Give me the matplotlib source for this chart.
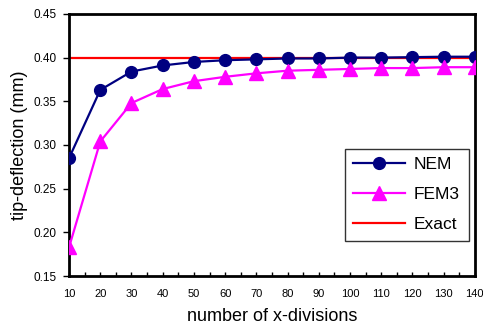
import matplotlib.pyplot as plt
from matplotlib.ticker import MultipleLocator

# dane
podzialy = [10, 20, 30, 40, 50, 60, 70, 80, 90, 100, 110, 120, 130, 140]
nem = [0.285, 0.363, 0.384, 0.391, 0.395, 0.397, 0.398, 0.399, 0.399, 0.400, 0.400, 0.4005, 0.401, 0.401]
fem3 = [0.183, 0.304, 0.348, 0.364, 0.373, 0.378, 0.382, 0.385, 0.386, 0.387, 0.388, 0.388, 0.389, 0.389]
exact = [0.40] * len(podzialy)

plt.rcParams['font.family'] = ['Liberation Sans', 'DejaVu Sans']

fig = plt.figure(figsize=(4.83, 3.31), dpi=100)
ax = fig.add_axes([0.143, 0.166, 0.840, 0.792])

ax.plot(podzialy, nem, color='#000080', lw=1.6, marker='o', ms=8.5, label='NEM', zorder=3)
ax.plot(podzialy, fem3, color='#FF00FF', lw=1.6, marker='^', ms=10, label='FEM3', zorder=3)
ax.plot(podzialy, exact, color='#FF0000', lw=1.6, label='Exact', zorder=2)

ax.set_xlim(10, 140)
ax.set_ylim(0.15, 0.45)
ax.set_xticks(podzialy)
ax.xaxis.set_minor_locator(MultipleLocator(5))
ax.set_yticks([0.15, 0.20, 0.25, 0.30, 0.35, 0.40, 0.45])
ax.set_yticklabels([f"{v:.2f}" for v in ax.get_yticks()])

ax.tick_params(axis='x', which='both', direction='in', length=3, width=1, labelsize=8, pad=9)
ax.tick_params(axis='y', direction='out', length=4, width=1, labelsize=8.5, pad=5)
for s in ax.spines.values():
    s.set_linewidth(2)

ax.set_xlabel("number of x-divisions", fontsize=13, labelpad=7)
ax.set_ylabel("tip-deflection (mm)", fontsize=13, labelpad=4)

leg = ax.legend(loc='lower right', bbox_to_anchor=(0.985, 0.134), borderaxespad=0,
                fontsize=12.5, frameon=True, fancybox=False, edgecolor='black',
                handlelength=3.0, borderpad=0.5, labelspacing=0.85, handletextpad=0.5)
leg.get_frame().set_linewidth(1)

fig.savefig('out.png', dpi=100)
